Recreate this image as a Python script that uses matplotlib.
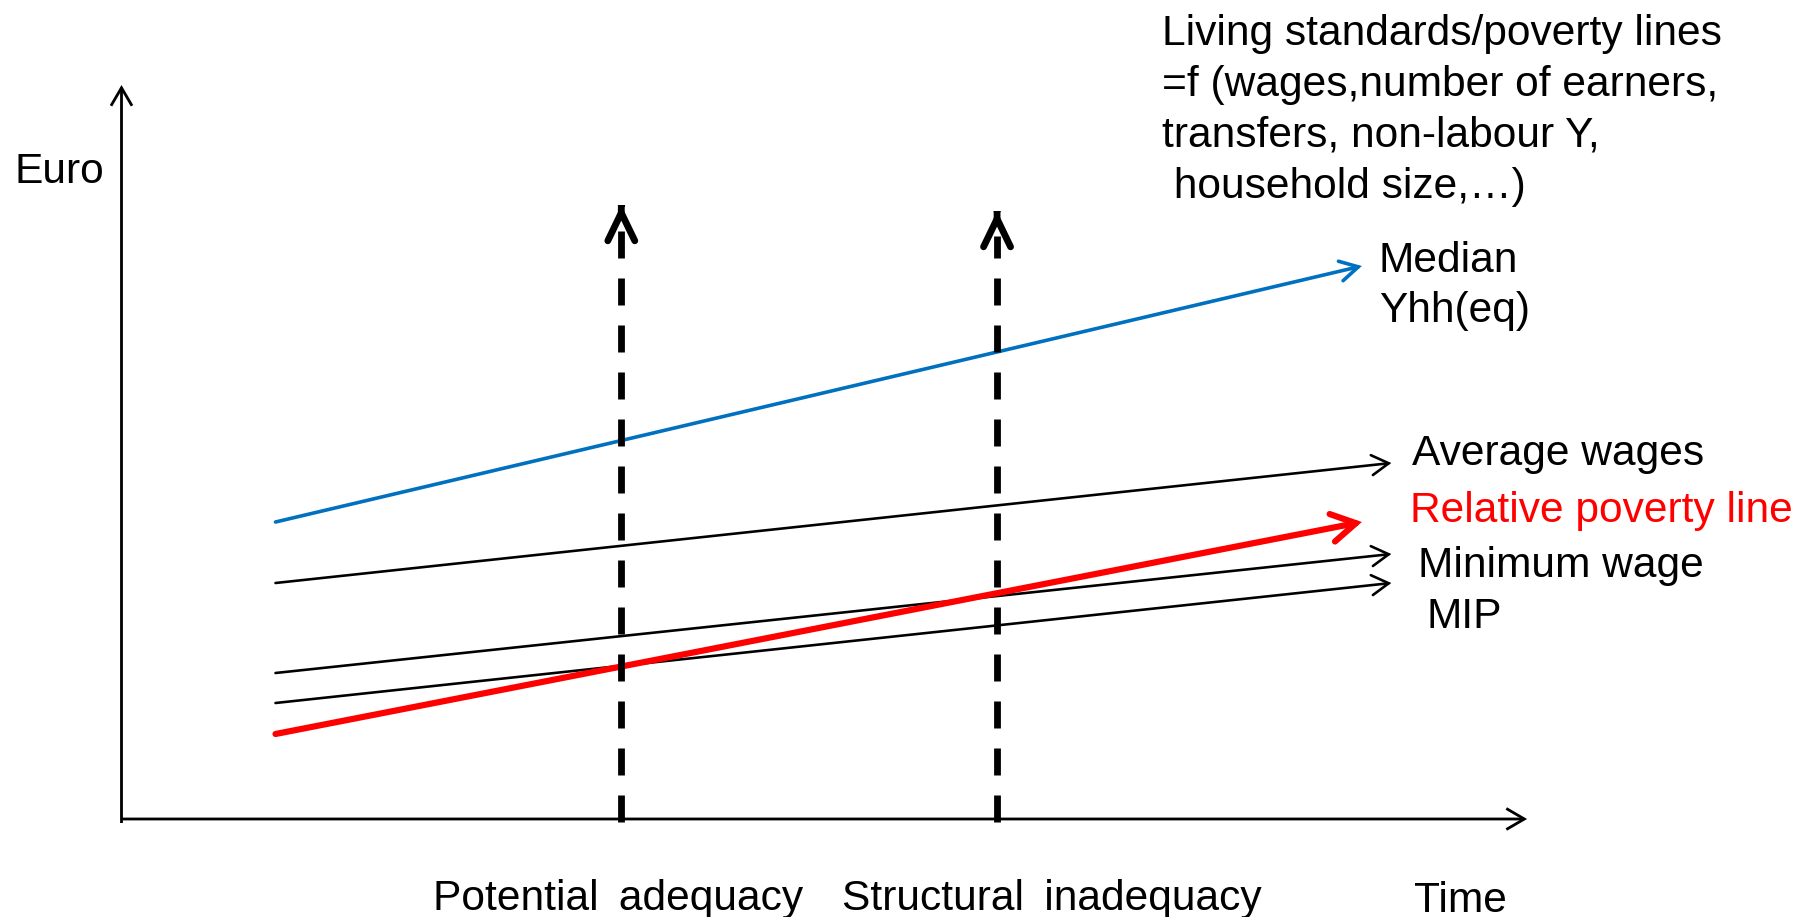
import matplotlib
matplotlib.use("Agg")
import matplotlib.pyplot as plt
from matplotlib.patches import FancyArrowPatch, ArrowStyle

plt.rcParams['font.family'] = ['Liberation Sans', 'DejaVu Sans']
plt.rcParams['lines.scale_dashes'] = False

# ---- data (time units on x, euro units on y) ----
t_start = 1.10          # where every income line begins
t_end_wages = 9.07      # end of the thin black wage/benefit lines
t_end_main = 8.86       # end of median and poverty line

series_names = ["Median\nYhh(eq)", "Average wages", "Relative poverty line",
                "Minimum wage", "MIP"]
series_start = [29.7, 23.6, 8.5, 14.6, 11.6]
series_end = [55.3, 35.6, 29.7, 26.5, 23.6]

marker_times = [3.57, 6.254]       # potential adequacy, structural inadequacy
marker_tops = [61.4, 60.8]
marker_labels = ["Potential \u2009adequacy", "Structural \u2009inadequacy"]

x_axis_end = 10.04
y_axis_top = 73.4

W, H, DPI = 1798, 917, 100
fig = plt.figure(figsize=(W / DPI, H / DPI), dpi=DPI)
ax = fig.add_axes([0, 0, 1, 1])
# 140 px per time unit, 10 px per euro, origin at (121.5, 819) px
ax.set_xlim(-121.5 / 140, (W - 121.5) / 140)
ax.set_ylim(-(H - 819) / 10, 819 / 10)
ax.axis('off')

PT = 72 / DPI  # points per pixel


def arrow(p0, p1, color, lw_px, head_len_px, head_half_px, z=3, cap='round'):
    style = ArrowStyle('->', head_length=head_len_px * PT,
                       head_width=head_half_px * PT)
    a = FancyArrowPatch(p0, p1, arrowstyle=style, mutation_scale=1,
                        lw=lw_px * PT, color=color, shrinkA=0, shrinkB=0,
                        capstyle=cap, joinstyle='miter', zorder=z)
    ax.add_patch(a)


# axes with open arrowheads
arrow((0, -0.4), (0, y_axis_top), 'black', 2.8, 18, 10.5, cap='butt')
arrow((0, 0), (x_axis_end, 0), 'black', 2.8, 18, 10.5, cap='butt')

colors = ['#0070C0', 'black', '#FF0000', 'black', 'black']
widths = [3.6, 2.6, 6.2, 2.6, 2.6]
heads = [(18, 10), (17, 10), (24, 14), (17, 10), (17, 10)]
ends = [t_end_main, t_end_wages, t_end_main, t_end_wages, t_end_wages]
zs = [4, 4, 5, 4, 4]
for c, w, (hl, hw), te, y0, y1, z in zip(colors, widths, heads, ends,
                                         series_start, series_end, zs):
    arrow((t_start, y0), (te, y1), c, w, hl, hw, z=z)

# dashed vertical markers with solid chevron heads
for tm, top in zip(marker_times, marker_tops):
    ax.plot([tm, tm], [-0.3, top - 2.5], color='black', lw=6.8 * PT,
            dashes=(27 * PT, 20 * PT), solid_capstyle='butt',
            dash_capstyle='butt', zorder=6)
    arrow((tm, top - 0.01), (tm, top), 'black', 6.8, 28, 13.5, z=6)

# ---- text ----
FS = 30.6


def label(px, py, s, color='black'):
    fig.text(px / W, 1 - py / H, s, fontsize=FS, color=color,
             ha='left', va='baseline')


label(14, 183, "Euro")
head_lines = ["Living standards/poverty lines",
              "=f (wages,number of earners,",
              "transfers, non-labour Y,",
              " household size,\u2026)"]
for i, s in enumerate(head_lines):
    label(1162, 45 + 51 * i, s)

label(1379, 272, "Median")
label(1379, 322, "Yhh(eq)")
label(1412, 465, "Average wages")
label(1410, 522, "Relative poverty line", color='#FF0000')
label(1418, 577, "Minimum wage")
label(1427, 628, "MIP")

label(433, 910, marker_labels[0])
label(842, 910, marker_labels[1])
label(1414, 912, "Time")

fig.savefig("out.png", dpi=DPI)
